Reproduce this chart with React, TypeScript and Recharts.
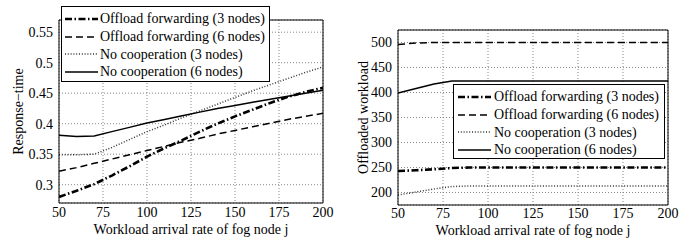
import React from 'react';
import { LineChart, Line, XAxis, YAxis, CartesianGrid, Legend } from 'recharts';

// ---------- data ----------
const arrivalRates = [50, 60, 70, 80, 90, 100, 110, 120, 130, 140, 150, 160, 170, 180, 190, 200];

// Left panel: response time
const rtOffload3 = [0.28, 0.29, 0.301, 0.315, 0.33, 0.346, 0.36, 0.373, 0.387, 0.4, 0.412, 0.423, 0.434, 0.444, 0.452, 0.459];
const rtOffload6 = [0.322, 0.328, 0.335, 0.342, 0.349, 0.356, 0.363, 0.37, 0.376, 0.383, 0.389, 0.395, 0.401, 0.407, 0.412, 0.417];
const rtNoCoop3 = [0.349, 0.349, 0.35, 0.361, 0.374, 0.387, 0.398, 0.41, 0.421, 0.432, 0.443, 0.454, 0.464, 0.474, 0.484, 0.493];
const rtNoCoop6 = [0.381, 0.379, 0.38, 0.387, 0.394, 0.401, 0.407, 0.413, 0.419, 0.425, 0.43, 0.435, 0.44, 0.445, 0.45, 0.455];

// Right panel: offloaded workload
const owOffload3 = [243, 244.5, 246.5, 249, 250, 250, 250, 250, 250, 250, 250, 250, 250, 250, 250, 250];
const owOffload6 = [496, 499, 500, 500, 500, 500, 500, 500, 500, 500, 500, 500, 500, 500, 500, 500];
const owNoCoop3 = [195, 201, 207, 212, 213, 213, 213, 213, 213, 213, 213, 213, 213, 213, 213, 213];
const owNoCoop6 = [399, 408, 417, 423, 423, 423, 423, 423, 423, 423, 423, 423, 423, 423, 423, 423];

const xTicks = [50, 75, 100, 125, 150, 175, 200];
const rtTicks = [0.3, 0.35, 0.4, 0.45, 0.5, 0.55];
const owTicks = [200, 250, 300, 350, 400, 450, 500];

const seriesNames = [
  'Offload forwarding (3 nodes)',
  'Offload forwarding (6 nodes)',
  'No cooperation (3 nodes)',
  'No cooperation (6 nodes)',
];
const seriesKeys = ['ff3', 'ff6', 'nc3', 'nc6'];

const xLabel = 'Workload arrival rate of fog node j';
const rtLabel = 'Response\u2212time';
const owLabel = 'Offloaded workload';

// ---------- styling ----------
const FONT = "'Liberation Serif', Tinos, 'Nimbus Roman', 'Noto Serif', 'DejaVu Serif', serif";
const lineStyles = [
  { stroke: '#000', strokeWidth: 2.6, dash: '7 2.5 1.5 2.5' },
  { stroke: '#000', strokeWidth: 1.5, dash: '7 4' },
  { stroke: '#333', strokeWidth: 1.5, dash: '1 1.8' },
  { stroke: '#000', strokeWidth: 1.5, dash: undefined as string | undefined },
];

const leftData = arrivalRates.map((x, i) => ({
  x,
  ff3: rtOffload3[i],
  ff6: rtOffload6[i],
  nc3: rtNoCoop3[i],
  nc6: rtNoCoop6[i],
}));
const rightData = arrivalRates.map((x, i) => ({
  x,
  ff3: owOffload3[i],
  ff6: owOffload6[i],
  nc3: owNoCoop3[i],
  nc6: owNoCoop6[i],
}));

const tickStyle = { fill: '#000', fontSize: 14, fontFamily: FONT };

const LegendBox = ({ width, height, padTop, sampleLeft, textGap }: any) => (
  <div
    style={{
      width,
      height,
      boxSizing: 'border-box',
      border: '1px solid #000',
      background: '#fff',
      paddingTop: padTop,
      fontFamily: FONT,
      fontSize: 14,
      color: '#000',
    }}
  >
    {seriesNames.map((n, i) => (
      <div
        key={n}
        style={{ height: 17.8, display: 'flex', alignItems: 'center', whiteSpace: 'nowrap', lineHeight: '17.8px' }}
      >
        <svg width={33} height={10} style={{ marginLeft: sampleLeft, marginRight: textGap, flex: 'none' }}>
          <line
            x1={0}
            y1={5}
            x2={33}
            y2={5}
            stroke={lineStyles[i].stroke}
            strokeWidth={lineStyles[i].strokeWidth}
            strokeDasharray={lineStyles[i].dash}
          />
        </svg>
        <span>{n}</span>
      </div>
    ))}
  </div>
);

const renderAxes = (
  yDomain: [number, number],
  yTicks: number[],
  xHeight: number,
  xMargin: number,
  yWidth: number,
  yMargin: number,
  yLabel: string,
  yLabelDx: number
) => [
  <XAxis
    key="x"
    xAxisId="x"
    dataKey="x"
    type="number"
    domain={[50, 200]}
    ticks={xTicks}
    interval={0}
    allowDataOverflow
    height={xHeight}
    tickLine={false}
    tickSize={0}
    tickMargin={xMargin}
    axisLine={{ stroke: '#000' }}
    tick={tickStyle}
    label={{ value: xLabel, position: 'center', dy: 5, fill: '#000', fontSize: 14, fontFamily: FONT }}
  />,
  <XAxis
    key="xb"
    xAxisId="xb"
    dataKey="x"
    type="number"
    domain={[50, 200]}
    ticks={xTicks}
    interval={0}
    orientation="bottom"
    mirror
    tick={false}
    axisLine={false}
    tickLine={{ stroke: '#000' }}
    tickSize={4}
  />,
  <XAxis
    key="xt"
    xAxisId="xt"
    dataKey="x"
    type="number"
    domain={[50, 200]}
    ticks={xTicks}
    interval={0}
    orientation="top"
    mirror
    tick={false}
    axisLine={{ stroke: '#000' }}
    tickLine={{ stroke: '#000' }}
    tickSize={4}
  />,
  <YAxis
    key="y"
    yAxisId="y"
    type="number"
    domain={yDomain}
    ticks={yTicks}
    interval={0}
    allowDataOverflow
    width={yWidth}
    tickLine={false}
    tickSize={0}
    tickMargin={yMargin}
    axisLine={{ stroke: '#000' }}
    tick={tickStyle}
    label={{ value: yLabel, angle: -90, position: 'center', dx: yLabelDx, fill: '#000', fontSize: 14, fontFamily: FONT }}
  />,
  <YAxis
    key="yl"
    yAxisId="yl"
    type="number"
    domain={yDomain}
    ticks={yTicks}
    interval={0}
    orientation="left"
    mirror
    tick={false}
    axisLine={false}
    tickLine={{ stroke: '#000' }}
    tickSize={4}
  />,
  <YAxis
    key="yr"
    yAxisId="yr"
    type="number"
    domain={yDomain}
    ticks={yTicks}
    interval={0}
    orientation="right"
    mirror
    tick={false}
    axisLine={{ stroke: '#000' }}
    tickLine={{ stroke: '#000' }}
    tickSize={4}
  />,
];

const renderLines = () =>
  seriesKeys.map((k, i) => (
    <Line
      key={k}
      xAxisId="x"
      yAxisId="y"
      dataKey={k}
      name={seriesNames[i]}
      type="linear"
      dot={false}
      activeDot={false}
      isAnimationActive={false}
      stroke={lineStyles[i].stroke}
      strokeWidth={lineStyles[i].strokeWidth}
      strokeDasharray={lineStyles[i].dash}
      strokeLinecap="butt"
    />
  ));

export default function App() {
  return (
    <div style={{ position: 'absolute', left: 0, top: 0, width: 699, height: 245, background: '#fff', fontFamily: FONT }}>
      <div style={{ position: 'absolute', left: 0, top: 0 }}>
        <LineChart width={350} height={245} data={leftData} margin={{ top: 20, right: 27, bottom: 0, left: 0 }}>
          <CartesianGrid xAxisId="x" yAxisId="y" stroke="#888" strokeDasharray="1 2" />
          {renderAxes([0.27, 0.57], rtTicks, 42, 4, 59, 6, rtLabel, -11.5)}
          {renderLines()}
          <Legend
            layout="vertical"
            align="center"
            verticalAlign="middle"
            wrapperStyle={{ left: 61, top: 6, width: 209, height: 76 }}
            content={() => <LegendBox width={209} height={76} padTop={3} sampleLeft={3} textGap={2} />}
          />
        </LineChart>
      </div>
      <div style={{ position: 'absolute', left: 350, top: 0 }}>
        <LineChart width={349} height={245} data={rightData} margin={{ top: 30, right: 31, bottom: 0, left: 0 }}>
          <CartesianGrid xAxisId="x" yAxisId="y" stroke="#888" strokeDasharray="1 2" />
          {renderAxes([175, 525], owTicks, 40, 3, 48, 6, owLabel, -11)}
          {renderLines()}
          <Legend
            layout="vertical"
            align="center"
            verticalAlign="middle"
            wrapperStyle={{ left: 103, top: 84, width: 212, height: 75 }}
            content={() => <LegendBox width={212} height={75} padTop={3} sampleLeft={4} textGap={3} />}
          />
        </LineChart>
      </div>
    </div>
  );
}
